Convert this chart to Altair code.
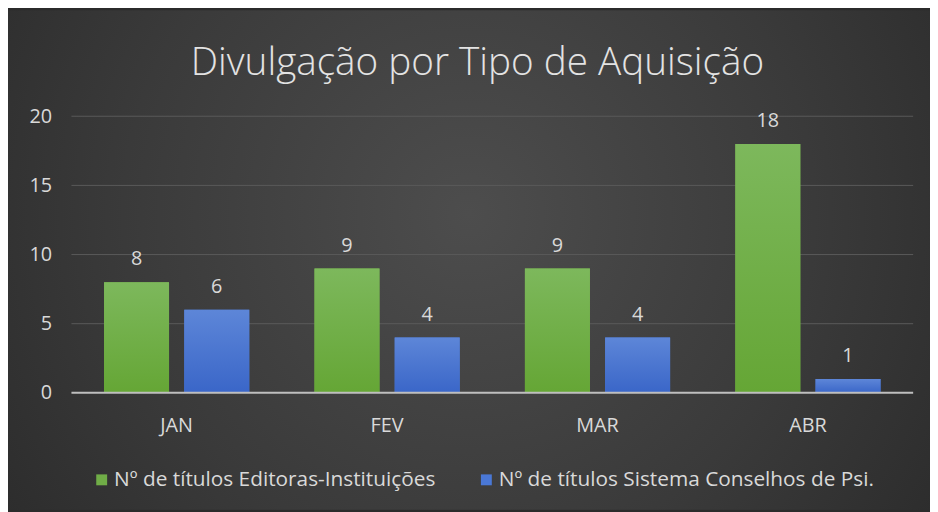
import altair as alt
import pandas as pd

months = ["JAN", "FEV", "MAR", "ABR"]
editoras = [8, 9, 9, 18]
sistema = [6, 4, 4, 1]
series = ["Nº de títulos Editoras-Instituições", "Nº de títulos Sistema Conselhos de Psi."]
y_ticks = [0, 5, 10, 15, 20]
title_text = "Divulgação por Tipo de Aquisição"

rows = []
for m, a, b in zip(months, editoras, sistema):
    rows.append({"mes": m, "serie": series[0], "valor": a})
    rows.append({"mes": m, "serie": series[1], "valor": b})
df = pd.DataFrame(rows)
grid_df = pd.DataFrame({"v": y_ticks[1:]})
zero_df = pd.DataFrame({"v": [0]})
title_df = pd.DataFrame({"t": [title_text]})

W, H = 849, 279
PL, PT, PR, PB = 64, 107, 17, 118
FONT = "Open Sans"
TXT = "#d9d9d9"

x_enc = alt.X(
    "mes:N", sort=months,
    scale=alt.Scale(paddingInner=0.31, paddingOuter=0.155),
    axis=alt.Axis(title=None, labelColor=TXT, labelFontSize=20, labelFont=FONT,
                  domain=False, ticks=False, grid=False, labelPadding=23,
                  labelAngle=0, zindex=2),
)
xo_enc = alt.XOffset("serie:N", sort=series,
                     scale=alt.Scale(domain=series, paddingInner=0.19, paddingOuter=0))
y_enc = alt.Y(
    "valor:Q",
    scale=alt.Scale(domain=[0, 20], nice=False),
    axis=alt.Axis(title=None, values=y_ticks, labelColor=TXT, labelFontSize=20,
                  labelFont=FONT, domain=False, ticks=False, grid=False,
                  labelPadding=20, zindex=2),
)

bg_grad = alt.RadialGradient(
    gradient="radial", x1=0.5, y1=0.45, r1=0, x2=0.5, y2=0.45, r2=0.75,
    stops=[alt.GradientStop(color="#4d4d4d", offset=0),
           alt.GradientStop(color="#3a3a3a", offset=0.5),
           alt.GradientStop(color="#242424", offset=1)],
)
green_grad = alt.LinearGradient(
    gradient="linear", x1=0, y1=0, x2=0, y2=1,
    stops=[alt.GradientStop(color="#7db85c", offset=0),
           alt.GradientStop(color="#65a635", offset=1)],
)
blue_grad = alt.LinearGradient(
    gradient="linear", x1=0, y1=0, x2=0, y2=1,
    stops=[alt.GradientStop(color="#5d86d8", offset=0),
           alt.GradientStop(color="#3a66c8", offset=1)],
)

background = alt.Chart(zero_df).mark_rect(fill=bg_grad).encode(
    x=alt.value(-PL), x2=alt.value(W + PR), y=alt.value(-PT), y2=alt.value(H + PB)
)

title = alt.Chart(title_df).mark_text(
    fontSize=39, font=FONT, fontWeight=300, color="#e3e3e3",
    align="center", baseline="alphabetic"
).encode(x=alt.value(W / 2 - 15), y=alt.value(-42), text="t:N")

grid = alt.Chart(grid_df).mark_rule(color="#5a5a5a", strokeWidth=1).encode(
    y=alt.Y("v:Q", scale=alt.Scale(domain=[0, 20], nice=False))
)

flat_bars = alt.Chart(df).mark_bar().encode(
    x=x_enc, xOffset=xo_enc, y=y_enc,
    color=alt.Color(
        "serie:N", sort=series,
        scale=alt.Scale(domain=series, range=["#70ad47", "#4a78d6"]),
        legend=alt.Legend(title=None, orient="none", legendX=20, legendY=356,
                          direction="horizontal", symbolType="square",
                          symbolSize=121, symbolStrokeWidth=0, labelFontSize=21,
                          labelColor=TXT, labelFont=FONT, columnPadding=40,
                          labelOffset=2, labelLimit=0),
    ),
)

green_bars = alt.Chart(df).transform_filter(
    alt.datum.serie == series[0]
).mark_bar(fill=green_grad).encode(x=x_enc, xOffset=xo_enc, y=y_enc)

blue_bars = alt.Chart(df).transform_filter(
    alt.datum.serie == series[1]
).mark_bar(fill=blue_grad).encode(x=x_enc, xOffset=xo_enc, y=y_enc)

labels = alt.Chart(df).mark_text(
    dy=-17, baseline="alphabetic", fontSize=20, font=FONT, color=TXT
).encode(x=x_enc, xOffset=xo_enc, y=y_enc, text="valor:Q")

baseline = alt.Chart(zero_df).mark_rule(color="#bfbfbf", strokeWidth=2).encode(
    y=alt.Y("v:Q", scale=alt.Scale(domain=[0, 20], nice=False))
)

chart = alt.layer(
    background, title, grid, flat_bars, green_bars, blue_bars, labels, baseline
).properties(
    width=W, height=H,
    padding={"left": PL, "top": PT, "right": PR, "bottom": PB},
    autosize=alt.AutoSizeParams(type="none"),
    background="#2b2b2b",
).configure_view(stroke=None)

chart.save("out.html", embed_options={"renderer": "svg", "actions": False})
